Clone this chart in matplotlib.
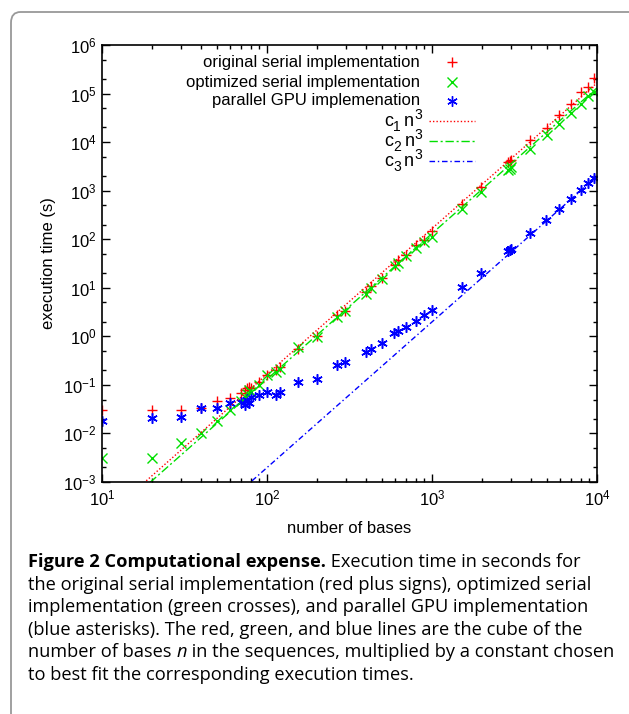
import matplotlib
matplotlib.use("Agg")
import matplotlib.pyplot as plt
import numpy as np
from matplotlib.ticker import LogLocator, NullFormatter
from matplotlib.patches import FancyBboxPatch

# execution times (seconds)
red_n = [10, 20, 30, 40, 50, 60, 70, 74, 76, 78, 80, 90, 100, 113, 120, 155, 200, 264, 297,
         398, 428, 495, 597, 625, 695, 796, 895, 1000, 1515, 1972, 2900, 2950, 3000,
         3925, 4955, 5910, 6955, 7960, 8850, 9590]
red_t = [0.031, 0.031, 0.031, 0.033, 0.047, 0.054, 0.067, 0.080, 0.088, 0.090, 0.085, 0.116,
         0.159, 0.20, 0.235, 0.56, 1.0, 2.7, 3.4, 8.0, 10.8, 16, 30, 37, 47, 75, 98, 146,
         525, 1190, 3900, 4100, 4230, 10900, 19900, 35600, 60000, 107000, 136000, 212000]

green_n = red_n
green_t = [0.0031, 0.0031, 0.0063, 0.0103, 0.018, 0.030, 0.047, 0.055, 0.065, 0.078, 0.070,
           0.10, 0.159, 0.185, 0.21, 0.61, 0.96, 2.5, 3.3, 7.6, 10, 15, 28, 32, 45, 65, 88,
           111, 427, 920, 2700, 2850, 3000, 7340, 14300, 24000, 40000, 60000, 89000, 107000]

blue_n = [10, 20, 30, 40, 50, 60, 70, 74, 76, 78, 80, 90, 100, 113, 120, 155, 200, 264, 297,
          398, 428, 495, 591, 625, 695, 796, 895, 1000, 1528, 1972, 2900, 2950, 3000,
          3925, 4900, 5910, 6955, 7960, 8850, 9590]
blue_t = [0.018, 0.021, 0.022, 0.033, 0.034, 0.043, 0.045, 0.038, 0.050, 0.042, 0.055, 0.062,
          0.072, 0.062, 0.072, 0.116, 0.135, 0.255, 0.29, 0.48, 0.56, 0.73, 1.15, 1.3, 1.57,
          2.08, 2.73, 3.46, 10.4, 20.3, 56, 59, 62, 137, 254, 428, 665, 1020, 1450, 1800]

# fitted constants for c*n^3
c1, c2, c3 = 1.66e-7, 1.31e-7, 1.98e-9

point_labels = ['original serial implementation', 'optimized serial implementation',
                'parallel GPU implemenation']
fit_subscripts = ['1', '2', '3']

# caption: list of lines, each a list of (text, weight, style) runs
caption = [
    [("Figure 2 Computational expense.", 'bold', 'normal'),
     (" Execution time in seconds for", 'normal', 'normal')],
    [("the original serial implementation (red plus signs), optimized serial", 'normal', 'normal')],
    [("implementation (green crosses), and parallel GPU implementation", 'normal', 'normal')],
    [("(blue asterisks). The red, green, and blue lines are the cube of the", 'normal', 'normal')],
    [("number of bases ", 'normal', 'normal'), ("n", 'normal', 'italic'),
     (" in the sequences, multiplied by a constant chosen", 'normal', 'normal')],
    [("to best fit the corresponding execution times.", 'normal', 'normal')],
]

plt.rcParams['font.family'] = ['Liberation Sans', 'DejaVu Sans']
plt.rcParams['mathtext.fontset'] = 'custom'
plt.rcParams['mathtext.rm'] = 'Liberation Sans'
plt.rcParams['mathtext.it'] = 'Liberation Sans:italic'

W, H = 629, 714
fig = plt.figure(figsize=(W / 100, H / 100), dpi=100)


def fx(px):
    return px / W


def fy(py):
    return 1 - py / H


# outer rounded frame of the figure panel
frame = FancyBboxPatch((fx(11), -0.1), 1.2, (H - 12) / H + 0.1, transform=fig.transFigure,
                       boxstyle="round,pad=0,rounding_size=0.015", fill=False,
                       edgecolor='#999999', linewidth=1.3)
fig.patches.append(frame)

ax = fig.add_axes([fx(102), fy(482), (597 - 102) / W, (482 - 45) / H])

colors = ['#ff0000', '#00e000', '#0000ff']
markers = ['+', 'x', (6, 2, 0)]
msizes = [7.5, 7, 7.5]
line_styles = [(0, (1, 1.5)), (0, (6, 2, 1.5, 2)), (0, (4, 2, 1, 2))]

n_line = np.logspace(1, 4, 400)
ax.plot(red_n, red_t, ls='none', marker=markers[0], color=colors[0], ms=msizes[0], mew=1.0)
ax.plot(green_n, green_t, ls='none', marker=markers[1], color=colors[1], ms=msizes[1], mew=1.0)
ax.plot(blue_n, blue_t, ls='none', marker=markers[2], color=colors[2], ms=msizes[2], mew=1.1)
for c, col, ls in zip([c1, c2, c3], colors, line_styles):
    ax.plot(n_line, c * n_line ** 3, color=col, lw=1.0, ls=ls)

ax.set_xscale('log')
ax.set_yscale('log')
ax.set_xlim(10, 1e4)
ax.set_ylim(1e-3, 1e6)
ax.xaxis.set_major_locator(LogLocator(base=10, numticks=10))
ax.xaxis.set_minor_locator(LogLocator(base=10, subs=np.arange(2, 10), numticks=20))
ax.yaxis.set_major_locator(LogLocator(base=10, numticks=20))
ax.yaxis.set_minor_locator(LogLocator(base=10, subs=(2, 5), numticks=20))
ax.xaxis.set_minor_formatter(NullFormatter())
ax.yaxis.set_minor_formatter(NullFormatter())
ax.tick_params(which='both', direction='in', top=True, right=True, labelsize=12, width=1.0)
ax.tick_params(which='major', length=6)
ax.tick_params(which='minor', length=3)
ax.tick_params(axis='x', pad=5)
ax.tick_params(axis='y', pad=4)
for s in ax.spines.values():
    s.set_linewidth(1.2)

ax.set_xlabel('number of bases', fontsize=12, labelpad=9)
ax.set_ylabel('execution time (s)', fontsize=12, labelpad=5)

fig.canvas.draw()
renderer = fig.canvas.get_renderer()

# key drawn by hand, gnuplot style: label right-aligned, sample on the right
row_y = [62, 82, 101, 121, 141, 161]
for i in range(3):
    yp = row_y[i]
    fig.text(fx(420), fy(yp), point_labels[i], fontsize=12, ha='right', va='center')
    fig.add_artist(plt.Line2D([fx(452)], [fy(yp)], ls='none', marker=markers[i],
                              ms=msizes[i], mew=1.0, color=colors[i]))
for i in range(3):
    yp = row_y[3 + i]
    # "c_i n^3" assembled from pieces so the sub/superscripts sit like gnuplot's
    x = 384
    t = fig.text(fx(x), fy(yp + 5), 'c', fontsize=13, va='baseline', ha='left')
    x += t.get_window_extent(renderer).width
    t = fig.text(fx(x), fy(yp + 10), fit_subscripts[i], fontsize=10, va='baseline', ha='left')
    x += t.get_window_extent(renderer).width + 3.5
    t = fig.text(fx(x), fy(yp + 5), 'n', fontsize=13, va='baseline', ha='left')
    x += t.get_window_extent(renderer).width
    fig.text(fx(x), fy(yp - 2), '3', fontsize=10, va='baseline', ha='left')
    fig.add_artist(plt.Line2D([fx(429), fx(475)], [fy(yp), fy(yp)], lw=1.0,
                              ls=line_styles[i], color=colors[i]))

# caption
cap_size = 13.15
for i, runs in enumerate(caption):
    x = 28
    yb = 567 + 22.6 * i
    for txt, weight, style in runs:
        t = fig.text(fx(x), fy(yb), txt, fontsize=cap_size, fontweight=weight,
                     fontstyle=style, family='Open Sans', va='baseline', ha='left')
        x += t.get_window_extent(renderer).width

fig.savefig('out.png', dpi=100)
